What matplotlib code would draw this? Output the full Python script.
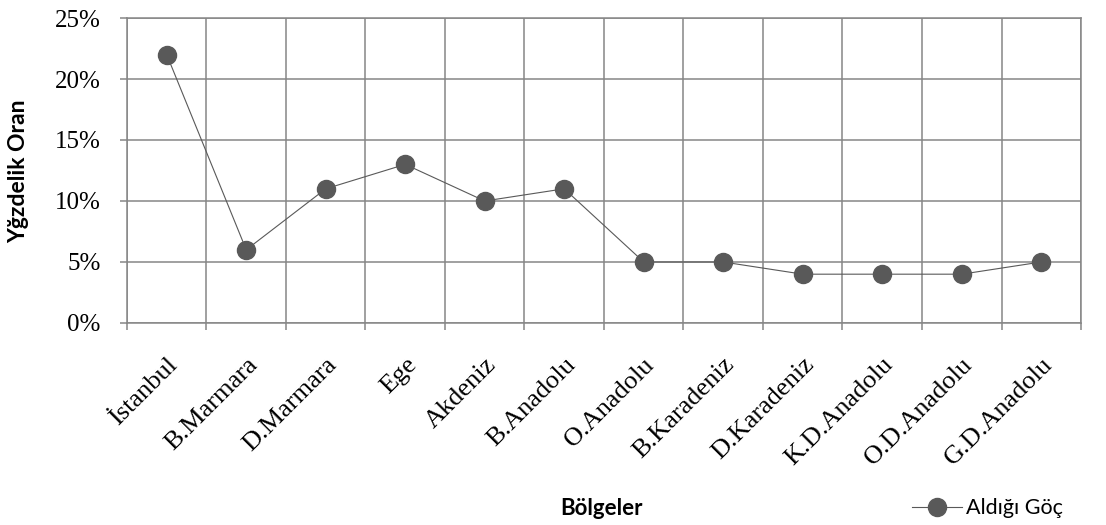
import numpy as np
import matplotlib.pyplot as plt
from matplotlib.ticker import PercentFormatter, FixedLocator

# Veriler
bolgeler = ["İstanbul", "B.Marmara", "D.Marmara", "Ege", "Akdeniz", "B.Anadolu",
            "O.Anadolu", "B.Karadeniz", "D.Karadeniz", "K.D.Anadolu", "O.D.Anadolu",
            "G.D.Anadolu"]
aldigi_goc = [22, 6, 11, 13, 10, 11, 5, 5, 4, 4, 4, 5]
y_ticks = [0, 5, 10, 15, 20, 25]

grid_renk = "#868686"
nokta_renk = "#595959"

fig = plt.figure(figsize=(11.06, 5.25), dpi=100)
ax = fig.add_axes([0.1148, 0.3848, 0.8626, 0.5809])

x = np.arange(len(bolgeler))
ax.plot(x, aldigi_goc, color=nokta_renk, lw=0.8, marker="o", ms=13,
        markerfacecolor=nokta_renk, markeredgecolor=nokta_renk, label="Aldığı Göç",
        zorder=3)

ax.set_xlim(-0.5, len(bolgeler) - 0.5)
ax.set_ylim(0, 25)

# x ekseni: etiketler ortada, çizgiler kategori sınırlarında
ax.set_xticks(x)
ax.set_xticklabels(bolgeler, rotation=45, ha="right", rotation_mode="anchor",
                   family="Liberation Serif", fontsize=19)
ax.xaxis.set_minor_locator(FixedLocator(np.arange(-0.5, len(bolgeler), 1)))
ax.tick_params(axis="x", which="major", length=0, pad=22)
ax.tick_params(axis="x", which="minor", length=5, width=1.1, color=grid_renk)

ax.set_yticks(y_ticks)
ax.yaxis.set_major_formatter(PercentFormatter(decimals=0))
ax.tick_params(axis="y", which="major", length=5, width=1.1, color=grid_renk, pad=14,
               labelsize=18, labelfontfamily="Liberation Serif")

ax.grid(True, axis="x", which="minor", color=grid_renk, lw=1.1)
ax.grid(True, axis="y", which="major", color=grid_renk, lw=1.1)
ax.set_axisbelow(True)

for s in ax.spines.values():
    s.set_color(grid_renk)
    s.set_linewidth(1.1)

fig.text(0.0172, 0.674, "Yğzdelik Oran", family="Lato", fontweight="bold", fontsize=16.5,
         rotation=90, ha="center", va="center")
fig.text(0.5434, 0.032, "Bölgeler", family="Lato", fontweight="bold", fontsize=16,
         ha="center", va="center")

ax.legend(loc="center", bbox_to_anchor=(0.893, 0.032), bbox_transform=fig.transFigure,
          frameon=False, prop={"family": "Lato", "size": 15.5}, handlelength=2.3,
          handletextpad=0.2)

fig.savefig("out.png", dpi=100)
